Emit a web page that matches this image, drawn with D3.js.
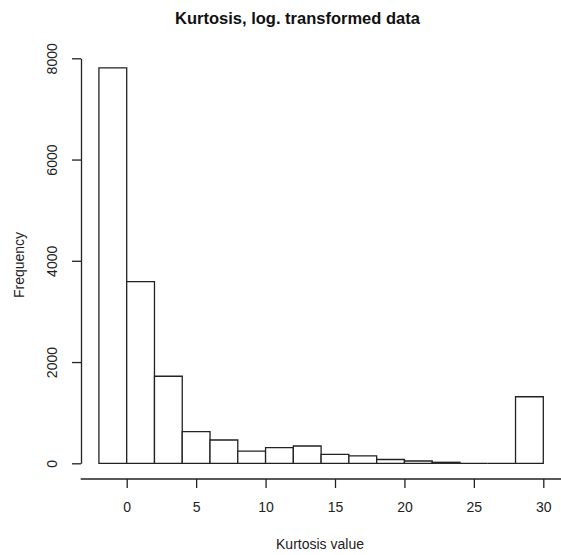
<!DOCTYPE html>
<html>
<head>
<meta charset="utf-8">
<script src="https://cdn.jsdelivr.net/npm/d3@7"></script>
<style>
  html, body { margin: 0; padding: 0; background: #fff; }
  svg { display: block; font-family: "Liberation Sans", Arial, sans-serif; }
</style>
</head>
<body>
<svg id="chart" width="561" height="555"></svg>
<script>
// Histogram bins (lower edge) and counts
const binStarts = [-2, 0, 2, 4, 6, 8, 10, 12, 14, 16, 18, 20, 22, 24, 26, 28];
const binWidth = 2;
const counts = [7810, 3590, 1720, 625, 460, 240, 310, 342, 178, 145, 75, 45, 20, 0, 0, 1315];
const xTicks = [0, 5, 10, 15, 20, 25, 30];
const yTicks = [0, 2000, 4000, 6000, 8000];
const title = "Kurtosis, log. transformed data";
const xLabel = "Kurtosis value";
const yLabel = "Frequency";

const svg = d3.select("#chart");

const x = d3.scaleLinear().domain([0, 30]).range([126.7, 543.3]);
const y = d3.scaleLinear().domain([0, 8000]).range([463.3, 58.3]);

const ink = "#222";
const fontFam = "'Liberation Sans', Arial, sans-serif";

// Bars (drawn as closed paths so zero-count bins show as a line on the baseline)
svg.append("g")
  .selectAll("path")
  .data(binStarts.map((s, i) => ({ s, e: s + binWidth, c: counts[i] })))
  .join("path")
  .attr("d", d => {
    const x0 = x(d.s), x1 = x(d.e), y0 = y(0), y1 = y(d.c);
    return `M${x0},${y0}V${y1}H${x1}V${y0}Z`;
  })
  .attr("fill", "#fff")
  .attr("stroke", ink)
  .attr("stroke-width", 1.3);

// X axis
const xAxisG = svg.append("g")
  .attr("transform", `translate(0,479)`)
  .call(d3.axisBottom(x).tickValues(xTicks).tickSize(9).tickSizeOuter(0));
xAxisG.select(".domain").remove();
xAxisG.append("line")
  .attr("x1", 80.7).attr("x2", 561)
  .attr("y1", 0).attr("y2", 0)
  .attr("stroke", ink).attr("stroke-width", 1.3);
xAxisG.selectAll(".tick line").attr("stroke", ink).attr("stroke-width", 1.3);
xAxisG.selectAll(".tick text")
  .attr("fill", "#222")
  .attr("y", 33).attr("dy", null)
  .style("font-size", "14px")
  .style("font-family", fontFam);

// Y axis
const yAxisG = svg.append("g")
  .attr("transform", `translate(81,0)`)
  .call(d3.axisLeft(y).tickValues(yTicks).tickSize(9).tickSizeOuter(0).tickFormat(d3.format("d")));
yAxisG.select(".domain").attr("stroke", ink).attr("stroke-width", 1.3);
yAxisG.selectAll(".tick line").attr("stroke", ink).attr("stroke-width", 1.3);
yAxisG.selectAll(".tick text")
  .attr("fill", "#222")
  .attr("x", null).attr("dy", null)
  .attr("text-anchor", "middle")
  .attr("transform", "translate(-24,0) rotate(-90)")
  .attr("y", 0)
  .style("font-size", "14px")
  .style("font-family", fontFam);

// Title
svg.append("text")
  .attr("x", 297.5).attr("y", 24)
  .attr("text-anchor", "middle")
  .attr("font-weight", "bold")
  .attr("font-size", "16.5px")
  .attr("fill", "#111")
  .text(title);

// X label
svg.append("text")
  .attr("x", 320).attr("y", 549)
  .attr("text-anchor", "middle")
  .attr("font-size", "14px")
  .attr("fill", "#222")
  .text(xLabel);

// Y label
svg.append("text")
  .attr("transform", "translate(24,265) rotate(-90)")
  .attr("text-anchor", "middle")
  .attr("font-size", "14px")
  .attr("fill", "#222")
  .text(yLabel);
</script>
</body>
</html>
